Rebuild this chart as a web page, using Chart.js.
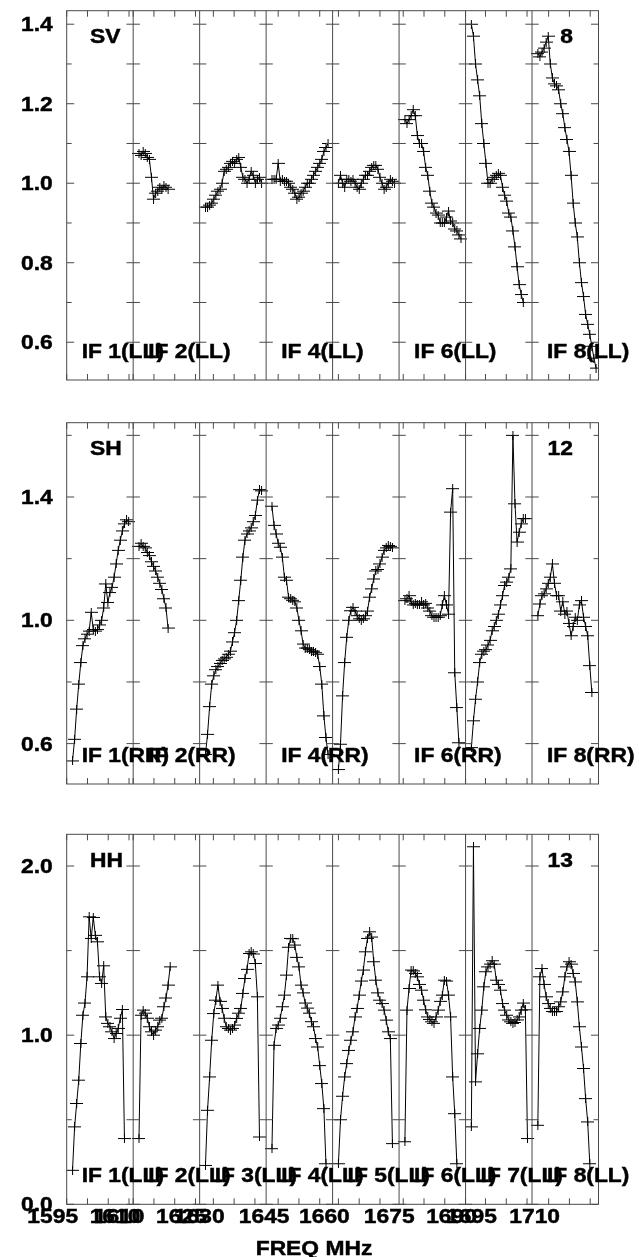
<!DOCTYPE html>
<html>
<head>
<meta charset="utf-8">
<script src="https://cdn.jsdelivr.net/npm/chart.js@4.4.1/dist/chart.umd.min.js"></script>
<style>
  html, body { margin: 0; padding: 0; background: #fff; }
  #wrap { position: relative; width: 639px; height: 1257px; }
  #wrap canvas { position: absolute; left: 0; }
</style>
</head>
<body>
<div id="wrap">
  <canvas id="c1" width="639" height="400" style="top:0;width:639px;height:400px"></canvas>
  <canvas id="c2" width="639" height="410" style="top:400px;width:639px;height:410px"></canvas>
  <canvas id="c3" width="639" height="447" style="top:810px;width:639px;height:447px"></canvas>
</div>
<script>
// IF layout: start frequency (MHz) of each IF, bandwidth, channel grid
const IF_START = [1595.0, 1610.0, 1626.7, 1642.1, 1658.6, 1674.0, 1690.2, 1706.0];
const IF_BW = 16;
const CH_OFF = 1.4;
const CH_STEP = 0.5;

// frequency tick labels on the bottom axis: [IF index, MHz]
const XLABEL_IF = [0, 0, 1, 1, 2, 3, 4, 5, 5, 6, 7];
const XLABEL_MHZ = [1595, 1610, 1610, 1625, 1630, 1645, 1660, 1675, 1690, 1695, 1710];

// amplitude per channel, one array per IF
const SV_DATA = [
  [],
  [1.075,1.07,1.08,1.075,1.065,1.06,1.015,0.96,0.975,0.98,0.99,0.985,0.995,0.99,0.985],
  [0.94,0.94,0.945,0.95,0.96,0.97,0.98,0.985,1.0,1.03,1.035,1.04,1.05,1.055,1.05,1.06,1.065,1.04,1.015,1.01,1.0,1.01,1.03,1.02,1.0,1.01,1.015,1.0],
  [1.01,1.01,1.01,1.05,1.005,1.01,1.005,1.005,1.0,0.99,0.985,0.975,0.96,0.965,0.975,0.98,0.99,1.0,1.0,1.01,1.02,1.03,1.04,1.05,1.06,1.08,1.09,1.1],
  [1.0,1.02,1.0,0.99,1.01,1.01,1.005,1.01,1.0,0.99,0.985,1.0,1.01,1.02,1.02,1.03,1.04,1.045,1.045,1.035,1.015,1.0,0.985,0.99,1.0,1.01,1.005,1.0],
  [1.16,1.15,1.16,1.17,1.185,1.17,1.12,1.1,1.1,1.08,1.04,1.02,0.98,0.95,0.94,0.925,0.92,0.9,0.9,0.9,0.915,0.93,0.905,0.9,0.885,0.88,0.87,0.86],
  [1.4,1.37,1.3,1.26,1.22,1.15,1.1,1.05,1.0,1.0,1.01,1.015,1.02,1.025,1.02,0.99,0.97,0.955,0.925,0.915,0.88,0.84,0.79,0.745,0.72,0.7],
  [1.326,1.318,1.33,1.34,1.355,1.37,1.3,1.265,1.25,1.245,1.235,1.2,1.175,1.14,1.11,1.08,1.02,0.95,0.9,0.865,0.8,0.75,0.715,0.67,0.645,0.62,0.59,0.56,0.535]
];
const SH_DATA = [
  [0.544,0.614,0.712,0.793,0.863,0.918,0.94,0.955,0.965,1.026,0.97,0.965,0.97,0.985,1.0,1.04,1.118,1.058,1.09,1.107,1.14,1.183,1.227,1.26,1.29,1.313,1.326,1.32],
  [1.24,1.25,1.24,1.235,1.22,1.21,1.19,1.175,1.16,1.14,1.12,1.1,1.07,1.04,0.975],
  [0.565,0.63,0.72,0.793,0.82,0.84,0.85,0.86,0.87,0.875,0.88,0.89,0.9,0.93,0.96,1.0,1.064,1.13,1.205,1.26,1.28,1.29,1.3,1.32,1.34,1.39,1.424,1.42],
  [1.37,1.308,1.28,1.25,1.237,1.205,1.14,1.13,1.075,1.07,1.065,1.06,1.04,1.0,0.966,0.923,0.91,0.91,0.905,0.9,0.9,0.895,0.89,0.85,0.793,0.69,0.62,0.565],
  [0.516,0.598,0.755,0.863,0.945,1.0,1.031,1.042,1.03,1.015,1.005,1.0,1.005,1.015,1.03,1.075,1.102,1.134,1.16,1.165,1.183,1.205,1.227,1.235,1.243,1.24,1.235],
  [1.064,1.07,1.08,1.06,1.05,1.055,1.05,1.05,1.06,1.05,1.055,1.04,1.03,1.015,1.01,1.01,1.01,1.015,1.05,1.08,1.05,1.02,1.351,1.427,0.83,0.717,0.603],
  [0.587,0.674,0.744,0.8,0.863,0.89,0.9,0.905,0.92,0.935,0.966,0.98,1.0,1.02,1.05,1.08,1.113,1.124,1.14,1.167,1.6,1.378,1.254,1.286,1.313,1.33,1.33],
  [1.015,1.053,1.08,1.086,1.102,1.12,1.14,1.183,1.12,1.08,1.08,1.03,1.06,1.02,1.03,0.99,0.95,0.98,1.01,1.0,1.05,1.064,1.01,0.98,0.95,0.853,0.766]
];
const HH_DATA = [
  [0.201,0.458,0.596,0.734,0.951,1.118,1.19,1.345,1.7,1.572,1.696,1.59,1.552,1.345,1.306,1.41,1.108,1.07,1.05,1.02,0.98,1.01,1.04,1.1,1.152,0.389],
  [0.389,1.118,1.148,1.13,1.1,1.05,1.02,1.0,1.03,1.05,1.089,1.1,1.168,1.22,1.296,1.404],
  [0.23,0.556,0.753,0.97,1.128,1.207,1.296,1.2,1.158,1.1,1.05,1.04,1.03,1.04,1.06,1.099,1.13,1.158,1.247,1.335,1.389,1.483,1.493,1.48,1.424,1.227,0.398],
  [0.329,0.94,1.04,1.06,1.1,1.168,1.237,1.355,1.52,1.572,1.57,1.533,1.46,1.404,1.296,1.25,1.19,1.16,1.13,1.08,1.05,0.98,0.93,0.82,0.714,0.566,0.24],
  [0.24,0.5,0.639,0.753,0.832,0.91,0.97,1.02,1.108,1.158,1.237,1.32,1.385,1.493,1.572,1.611,1.58,1.434,1.325,1.25,1.207,1.187,1.148,1.089,1.02,0.98,0.359],
  [0.37,1.148,1.276,1.385,1.38,1.365,1.345,1.3,1.266,1.207,1.15,1.108,1.093,1.079,1.07,1.108,1.148,1.2,1.237,1.325,1.32,1.237,1.108,0.753,0.536,0.24],
  [0.458,2.114,0.724,0.89,1.04,1.148,1.286,1.375,1.404,1.42,1.44,1.42,1.325,1.3,1.266,1.187,1.148,1.118,1.09,1.079,1.07,1.075,1.09,1.108,1.148,1.19,1.15,0.389],
  [0.467,1.345,1.394,1.3,1.227,1.187,1.158,1.14,1.138,1.14,1.168,1.197,1.256,1.345,1.404,1.434,1.42,1.365,1.315,1.197,1.05,0.93,0.803,0.625,0.487,0.24]
];

// y ticks (all) and the labelled ones, per panel
const SV_TICKS = [0.6, 0.7, 0.8, 0.9, 1.0, 1.1, 1.2, 1.3, 1.4];
const SV_LABELS = [0.6, 0.8, 1.0, 1.2, 1.4];
const SH_TICKS = [0.6, 0.8, 1.0, 1.2, 1.4, 1.6];
const SH_LABELS = [0.6, 1.0, 1.4];
const HH_TICKS = [0.0, 0.5, 1.0, 1.5, 2.0];
const HH_LABELS = [0.0, 1.0, 2.0];

const PANELS = [
  { canvas: "c1", name: "SV", num: "8", pol: "LL", data: SV_DATA, yMin: 0.505, yMax: 1.434,
    ticks: SV_TICKS, labels: SV_LABELS, ifLabels: [1, 2, 4, 6, 8], freqAxis: false,
    pad: { left: 66.7, right: 40.5, top: 10.7, bottom: 20 } },
  { canvas: "c2", name: "SH", num: "12", pol: "RR", data: SH_DATA, yMin: 0.469, yMax: 1.641,
    ticks: SH_TICKS, labels: SH_LABELS, ifLabels: [1, 2, 4, 6, 8], freqAxis: false,
    pad: { left: 66.7, right: 40.5, top: 22.7, bottom: 26 } },
  { canvas: "c3", name: "HH", num: "13", pol: "LL", data: HH_DATA, yMin: 0, yMax: 2.1875,
    ticks: HH_TICKS, labels: HH_LABELS, ifLabels: [1, 2, 3, 4, 5, 6, 7, 8], freqAxis: true,
    pad: { left: 66.7, right: 40.5, top: 24.3, bottom: 52.7 } }
];

const FONT = 'bold 19.5px "Liberation Sans", Arial, sans-serif';
const STRETCH = 1.17;

function makeCross() {
  const c = document.createElement("canvas");
  c.width = 13; c.height = 9;
  const g = c.getContext("2d");
  g.fillStyle = "#000";
  g.fillRect(0, 4, 13, 1);
  g.fillRect(6, 0, 1, 9);
  return c;
}
const CROSS = makeCross();

// AIPS-style lettering: a bit wider and heavier than plain Arial bold
function label(ctx, s, x, y, align) {
  ctx.save();
  ctx.translate(x, y);
  ctx.scale(STRETCH, 1);
  ctx.textAlign = align;
  ctx.textBaseline = "alphabetic";
  ctx.fillText(s, 0, 0);
  ctx.lineWidth = 0.45;
  ctx.strokeText(s, 0, 0);
  ctx.restore();
}

function seg(ctx, x1, y1, x2, y2) {
  ctx.beginPath();
  ctx.moveTo(x1, y1);
  ctx.lineTo(x2, y2);
  ctx.stroke();
}

function framePlugin(P) {
  return {
    id: "frame",
    afterDraw(chart) {
      const ctx = chart.ctx, xs = chart.scales.x, ys = chart.scales.y, a = chart.chartArea;
      const ifX = (i) => xs.getPixelForValue(i * IF_BW);
      ctx.save();
      ctx.strokeStyle = "#4a4a4a";
      ctx.lineWidth = 1;
      ctx.strokeRect(a.left, a.top, a.right - a.left, a.bottom - a.top);
      for (let i = 1; i < IF_START.length; i++) seg(ctx, ifX(i), a.top, ifX(i), a.bottom);

      // amplitude ticks on frame and across each IF divider
      P.ticks.forEach((v) => {
        const y = ys.getPixelForValue(v);
        const len = P.labels.includes(v) ? 7.5 : 5;
        seg(ctx, a.left, y, a.left + len, y);
        seg(ctx, a.right - len, y, a.right, y);
        for (let i = 1; i < IF_START.length; i++) seg(ctx, ifX(i) - 6.7, y, ifX(i) + 6.7, y);
      });

      // 5 MHz ticks inside each IF, top and bottom
      IF_START.forEach((f0, i) => {
        for (let t = Math.ceil(f0 / 5) * 5; t <= f0 + IF_BW + 1e-6; t += 5) {
          const x = xs.getPixelForValue(i * IF_BW + t - f0);
          seg(ctx, x, a.top, x, a.top + 6);
          seg(ctx, x, a.bottom - 6, x, a.bottom);
        }
      });

      ctx.fillStyle = "#000";
      ctx.strokeStyle = "#000";
      ctx.font = FONT;
      P.labels.forEach((v) => label(ctx, v.toFixed(1), a.left - 14, ys.getPixelForValue(v) + 7, "right"));
      label(ctx, P.name, a.left + 23.3, a.top + 32.5, "left");
      label(ctx, P.num, a.right - 25.5, a.top + 32.5, "right");
      P.ifLabels.forEach((n) => label(ctx, "IF " + n + "(" + P.pol + ")", ifX(n - 1) + 15, a.bottom - 22, "left"));

      if (P.freqAxis) {
        XLABEL_MHZ.forEach((f, k) => {
          const i = XLABEL_IF[k];
          const x = xs.getPixelForValue(i * IF_BW + f - IF_START[i]);
          label(ctx, String(f), x - 14, a.bottom + 19, "center");
        });
        label(ctx, "FREQ MHz", (a.left + a.right) / 2 - 18.6, a.bottom + 50.7, "center");
      }
      ctx.restore();
    }
  };
}

PANELS.forEach((P) => {
  const datasets = P.data.map((vals, i) => ({
    data: vals.map((v, k) => ({ x: i * IF_BW + CH_OFF + k * CH_STEP, y: v })),
    borderColor: "#000",
    borderWidth: 1,
    pointStyle: CROSS,
    pointRadius: 3,
    pointHoverRadius: 3,
    fill: false,
    tension: 0
  }));
  new Chart(document.getElementById(P.canvas), {
    type: "line",
    data: { datasets },
    options: {
      responsive: false,
      animation: false,
      events: [],
      layout: { padding: P.pad },
      plugins: { legend: { display: false }, tooltip: { enabled: false } },
      scales: {
        x: { type: "linear", min: 0, max: IF_START.length * IF_BW, display: false },
        y: { type: "linear", min: P.yMin, max: P.yMax, display: false }
      }
    },
    plugins: [framePlugin(P)]
  });
});
</script>
</body>
</html>
